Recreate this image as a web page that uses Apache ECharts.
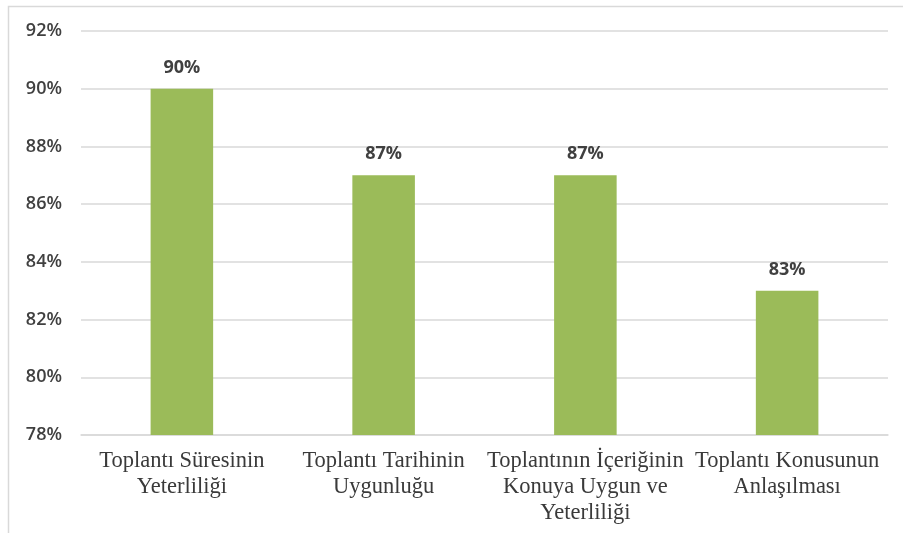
<!DOCTYPE html>
<html>
<head>
<meta charset="utf-8">
<script src="https://cdn.jsdelivr.net/npm/echarts@6/dist/echarts.min.js"></script>
<style>html,body{margin:0;padding:0;background:#fff}#c{width:903px;height:533px}</style>
</head>
<body>
<div id="c"></div>
<script>
var categories = [
  "Toplantı Süresinin\nYeterliliği",
  "Toplantı Tarihinin\nUygunluğu",
  "Toplantının İçeriğinin\nKonuya Uygun ve\nYeterliliği",
  "Toplantı Konusunun\nAnlaşılması"
];
var values = [90, 87, 87, 83];
var yTicks = { min: 78, max: 92, interval: 2 };

var chart = echarts.init(document.getElementById('c'), null, { renderer: 'canvas' });
chart.setOption({
  animation: false,
  backgroundColor: '#ffffff',
  graphic: [{
    type: 'rect', left: 6, top: 4, silent: true,
    shape: { width: 1200, height: 1200 },
    style: { fill: 'none', stroke: '#d9d9d9', lineWidth: 1.5 }
  }],
  grid: { left: 81, right: 15, top: 31, bottom: 98, containLabel: false },
  xAxis: {
    type: 'category',
    data: categories,
    axisLine: { show: true, lineStyle: { color: '#d9d9d9', width: 1.5 } },
    axisTick: { show: false },
    axisLabel: {
      interval: 0, margin: 13,
      fontFamily: 'Liberation Serif', fontSize: 22.5, color: '#3a3a3a',
      lineHeight: 26
    }
  },
  yAxis: {
    type: 'value', min: yTicks.min, max: yTicks.max, interval: yTicks.interval,
    axisLine: { show: false }, axisTick: { show: false },
    splitLine: { lineStyle: { color: '#d9d9d9', width: 1.5 } },
    axisLabel: {
      formatter: '{value}%', margin: 19,
      fontFamily: 'Open Sans', fontSize: 18, fontWeight: 600, color: '#404040'
    }
  },
  series: [{
    type: 'bar', data: values, barWidth: '31%',
    itemStyle: { color: '#9bbb59' },
    label: {
      show: true, position: 'top', distance: 12,
      formatter: '{c}%',
      fontFamily: 'Open Sans', fontSize: 18, fontWeight: 'bold', color: '#404040'
    }
  }]
});
</script>
</body>
</html>
